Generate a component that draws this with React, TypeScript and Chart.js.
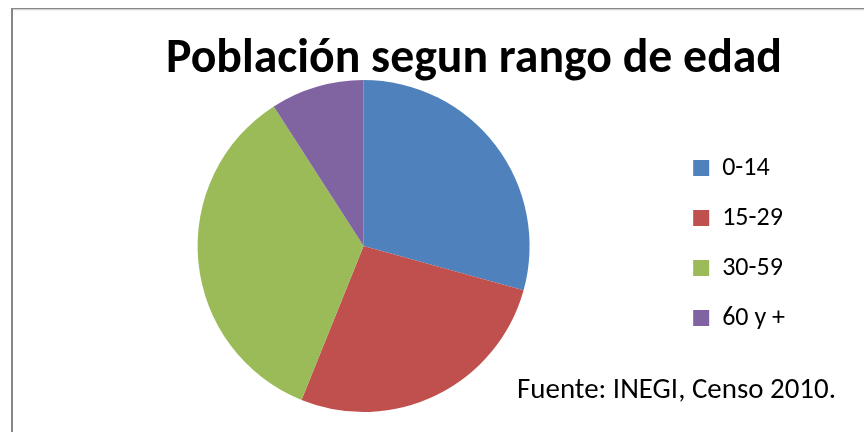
import { useEffect, useRef } from "react";
import { Chart, registerables } from "chart.js";

Chart.register(...registerables);

const TITLE = "Población segun rango de edad";
const SOURCE = "Fuente: INEGI, Censo 2010.";
const labels = ["0-14", "15-29", "30-59", "60 y +"];
const values = [29.3, 26.8, 34.8, 9.1];
const colors = ["#4F81BD", "#C0504D", "#9BBB59", "#8064A2"];

const FONT = "Carlito, 'Open Sans', sans-serif";

const decor = {
  id: "decor",
  beforeDraw(chart: any) {
    const ctx = chart.ctx;
    ctx.save();
    ctx.fillStyle = "#ffffff";
    ctx.fillRect(0, 0, chart.width, chart.height);
    ctx.fillStyle = "#868686";
    ctx.fillRect(11, 8, 2, chart.height);
    ctx.fillRect(11, 8, chart.width, 1.5);
    ctx.fillStyle = "#e6e6e6";
    ctx.fillRect(13, 9.5, chart.width, 1);
    ctx.restore();
  },
  afterLayout(chart: any) {
    const lg = chart.legend;
    if (lg) {
      lg.top -= 3;
      lg.bottom -= 3;
    }
  },
  afterDraw(chart: any) {
    const ctx = chart.ctx;
    ctx.save();
    ctx.fillStyle = "#000000";
    ctx.textAlign = "left";
    ctx.textBaseline = "alphabetic";
    ctx.font = `bold 48px ${FONT}`;
    ctx.fillText(TITLE, 166, 72, 616);
    ctx.font = `29px ${FONT}`;
    ctx.fillText(SOURCE, 517, 398, 319);
    ctx.restore();
  },
};

export default function App() {
  const ref = useRef<HTMLCanvasElement | null>(null);
  useEffect(() => {
    if (!ref.current) return;
    const chart = new Chart(ref.current, {
      type: "pie",
      data: {
        labels,
        datasets: [
          {
            data: values,
            backgroundColor: colors,
            borderWidth: 0,
          },
        ],
      },
      options: {
        animation: false,
        responsive: true,
        maintainAspectRatio: false,
        layout: { padding: { left: 58, right: 69, top: 80, bottom: 20 } },
        plugins: {
          title: { display: false },
          tooltip: { enabled: false },
          legend: {
            position: "right",
            labels: {
              boxWidth: 16,
              boxHeight: 16,
              padding: 24,
              color: "#000000",
              font: { family: FONT, size: 26 },
            },
          },
        },
      },
      plugins: [decor],
    });
    return () => chart.destroy();
  }, []);
  return (
    <div style={{ position: "fixed", left: 0, top: 0, width: 864, height: 432, background: "#fff" }}>
      <canvas ref={ref} />
    </div>
  );
}
